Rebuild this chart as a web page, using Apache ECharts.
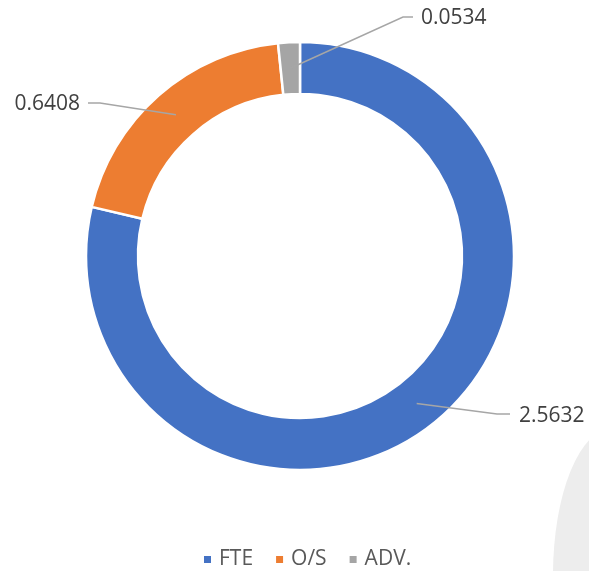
<!DOCTYPE html>
<html>
<head>
<meta charset="utf-8">
<style>
  html, body { margin: 0; padding: 0; background: #fff; }
  #chart { width: 589px; height: 571px; }
</style>
<script src="https://cdn.jsdelivr.net/npm/echarts@6/dist/echarts.min.js"></script>
</head>
<body>
<div id="chart"></div>
<script>
// 数据
const categories = ['FTE', 'O/S', 'ADV.'];
const values = [2.5632, 0.6408, 0.0534];
const colors = ['#4472C4', '#ED7D31', '#A5A5A5'];

const center = [300, 256];
const radius = [162, 214];
// label anchor, elbow of the leader line, text alignment
const labelSpots = [
  { x: 519, y: 416, align: 'left', elbow: [497, 414], end: [510, 414] },
  { x: 80, y: 104, align: 'right', elbow: [100, 103], end: [88, 103] },
  { x: 421, y: 18, align: 'left', elbow: [403, 17], end: [413, 17] },
];

const total = values.reduce((a, b) => a + b, 0);
const midRing = (radius[0] + radius[1]) / 2;
// 引导线起点：环中间、扇区中线上
const startPoint = (idx) => {
  let before = 0;
  for (let i = 0; i < idx; i++) before += values[i];
  const a = ((before + values[idx] / 2) / total) * Math.PI * 2;
  return [center[0] + midRing * Math.sin(a), center[1] - midRing * Math.cos(a)];
};

const leaderLines = values.map((v, i) => ({
  type: 'polyline',
  z: 100,
  silent: true,
  shape: { points: [startPoint(i), labelSpots[i].elbow, labelSpots[i].end] },
  style: { stroke: '#A6A6A6', lineWidth: 1.5, fill: null },
}));

const myChart = echarts.init(document.getElementById('chart'));
myChart.setOption({
  animation: false,
  color: colors,
  graphic: [
    {
      type: 'circle',
      z: -10,
      x: 613,
      y: 575,
      scaleY: 2.45,
      shape: { cx: 0, cy: 0, r: 60 },
      style: { fill: '#EDEDED' },
      silent: true,
    },
    ...leaderLines,
  ],
  legend: {
    bottom: 1,
    left: 202,
    padding: 0,
    icon: 'rect',
    itemWidth: 9,
    itemHeight: 9,
    itemGap: 21,
    selectedMode: false,
    textStyle: {
      fontFamily: 'Open Sans',
      fontSize: 21,
      color: '#595959',
      padding: [0, 0, 0, 2],
    },
    data: categories,
  },
  series: [
    {
      type: 'pie',
      center: center,
      radius: radius,
      startAngle: 90,
      clockwise: true,
      emphasis: { disabled: true },
      itemStyle: {
        borderColor: '#fff',
        borderWidth: 2.5,
      },
      label: {
        show: true,
        position: 'outside',
        formatter: '{c}',
        fontFamily: 'Open Sans',
        fontSize: 21,
        color: '#404040',
      },
      labelLine: { show: false },
      labelLayout: (params) => {
        const s = labelSpots[params.dataIndex];
        return {
          x: s.x,
          y: s.y,
          align: s.align,
          verticalAlign: 'middle',
        };
      },
      data: categories.map((name, i) => ({ name: name, value: values[i] })),
    },
  ],
});
</script>
</body>
</html>
